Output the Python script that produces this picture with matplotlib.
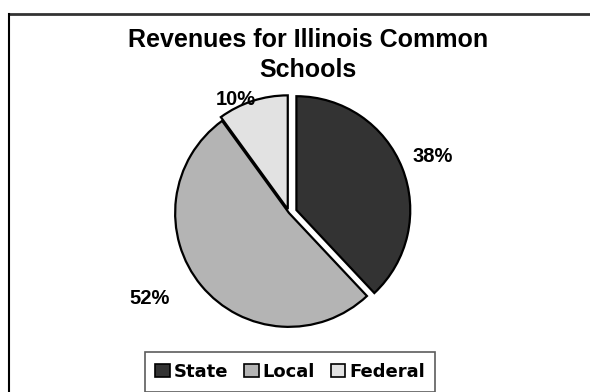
import numpy as np
import matplotlib.pyplot as plt
from matplotlib.patches import Patch

# Revenue shares by source
sources = ['State', 'Local', 'Federal']
shares = [38, 52, 10]
colors = ['#333333', '#b4b4b4', '#e2e2e2']
explode = [0.07, 0.0, 0.035]

# label placement: radial distance and angle nudge (degrees) per wedge
label_dist = [1.36, 1.44, 1.1]
label_nudge = [0, -8, 7]

fig = plt.figure(figsize=(5.9, 3.92), dpi=100)

# outer chart frame (only top and left edges are in view)
fig.add_artist(plt.Line2D([9 / 590, 1], [1 - 14 / 392, 1 - 14 / 392], color='#333333', lw=2))
fig.add_artist(plt.Line2D([9 / 590, 9 / 590], [0, 1 - 14 / 392], color='black', lw=1.5))

fig.text(308 / 590, 1 - 55 / 392, 'Revenues for Illinois Common\nSchools', ha='center', va='center',
         fontsize=18, fontweight='bold', family='Liberation Sans', linespacing=1.35)

ax = fig.add_axes([141 / 590, 31 / 392, 296 / 590, 296 / 392])
wedges, _ = ax.pie(shares, colors=colors, explode=explode, startangle=90, counterclock=False,
                   wedgeprops=dict(edgecolor='black', linewidth=1.6))
ax.set_xlim(-1.3, 1.3)
ax.set_ylim(-1.3, 1.3)
ax.set_aspect('equal')
ax.axis('off')

for w, s, d, n in zip(wedges, shares, label_dist, label_nudge):
    ang = np.deg2rad((w.theta1 + w.theta2) / 2 + n)
    ax.text(d * np.cos(ang), d * np.sin(ang), f'{s}%', ha='center', va='center',
            fontsize=14.5, fontweight='bold', family='Liberation Sans')

handles = [Patch(facecolor=c, edgecolor='black', lw=1.2) for c in colors]
leg = fig.legend(handles, sources, loc='upper center', bbox_to_anchor=(290 / 590, 1 - 352 / 392), ncol=3,
                 prop=dict(family='DejaVu Sans', weight='bold', size=13), frameon=True, fancybox=False,
                 edgecolor='#333333', handlelength=0.8, handleheight=0.8, handletextpad=0.2,
                 columnspacing=0.9, borderpad=0.6, borderaxespad=0)
leg.get_frame().set_linewidth(1.2)

fig.savefig('out.png', dpi=100)
